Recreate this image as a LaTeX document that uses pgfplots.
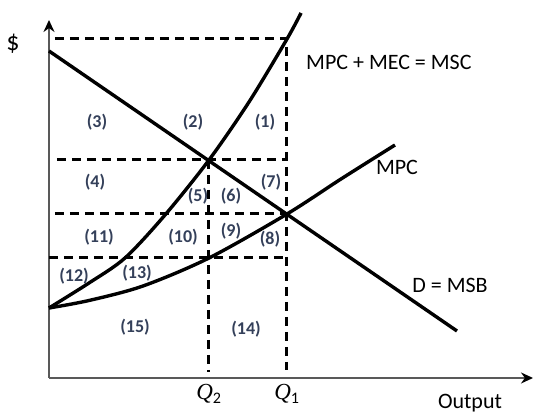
\documentclass[border=0pt]{standalone}
\usepackage{fontspec}
\setmainfont{Carlito}
\newfontfamily\qfont{Liberation Serif}
\usepackage{pgfplots}
\pgfplotsset{compat=1.18}
\usetikzlibrary{arrows.meta}
\definecolor{numc}{HTML}{34405A}
\definecolor{axc}{HTML}{595959}

\begin{document}
\begin{tikzpicture}[
    curve/.style={line width=3.4pt, black},
    guide/.style={line width=3pt, black, dash pattern=on 9pt off 6pt},
    lab/.style={font=\fontsize{18}{20}\selectfont\bfseries, text=numc},
    big/.style={font=\fontsize{22}{25}\selectfont},
]
\begin{axis}[
    scale only axis,
    width=484pt, height=358pt,
    xmin=0, xmax=484, ymin=0, ymax=358,
    enlargelimits=false,
    clip=false,
    axis lines=left,
    axis line style={draw=axc, line width=1.6pt, -{Stealth[length=12pt,width=11pt,black]}},
    xtick={160,238},
    xticklabels={{{\qfont\itshape Q}\textsubscript{2}},{{\qfont\itshape Q}\textsubscript{1}}},
    ytick=\empty,
    major tick length=0pt,
    xticklabel style={font=\fontsize{23}{25}\selectfont, yshift=-3pt},
]
\path (axis cs:-49,-39) rectangle (axis cs:493,378);

% dashed guides
\addplot[guide] coordinates {(6,339) (238,339) (238,8)};
\addplot[guide] coordinates {(8,218) (238,218)};
\addplot[guide] coordinates {(160,218) (160,6)};
\addplot[guide] coordinates {(6,164) (238,164)};
\addplot[guide] coordinates {(0,120) (238,120)};

% D = MSB
\addplot[curve] coordinates {(0,327) (408,47)};
% MPC
\addplot[curve, smooth] coordinates {(0,70) (40,77.5) (94,92) (160,120) (238,164) (292,199) (346,233)};
% MSC
\addplot[curve, smooth] coordinates {(0,70) (40,95) (76,120) (116,163) (160,218) (200,276) (238,339) (252,365)};

% area labels
\node[lab] at (axis cs:216,256) {(1)};
\node[lab] at (axis cs:144,256) {(2)};
\node[lab] at (axis cs:48,256) {(3)};
\node[lab] at (axis cs:46,196) {(4)};
\node[lab] at (axis cs:149,182) {(5)};
\node[lab] at (axis cs:182,182) {(6)};
\node[lab] at (axis cs:222,196) {(7)};
\node[lab] at (axis cs:221,139) {(8)};
\node[lab] at (axis cs:182,147) {(9)};
\node[lab] at (axis cs:134,141) {(10)};
\node[lab] at (axis cs:50,141) {(11)};
\node[lab] at (axis cs:25,102) {(12)};
\node[lab] at (axis cs:88,105) {(13)};
\node[lab] at (axis cs:197,49) {(14)};
\node[lab] at (axis cs:86,51) {(15)};

% curve labels
\node[big, anchor=west, inner sep=0pt] at (axis cs:257,316) {MPC + MEC = MSC};
\node[big] at (axis cs:348,211) {MPC};
\node[big] at (axis cs:401,93) {D = MSB};
\node[big] at (axis cs:421,-25) {Output};
\node[font=\fontsize{26}{28}\selectfont] at (axis cs:-36,334) {\$};
\end{axis}
\end{tikzpicture}
\end{document}
